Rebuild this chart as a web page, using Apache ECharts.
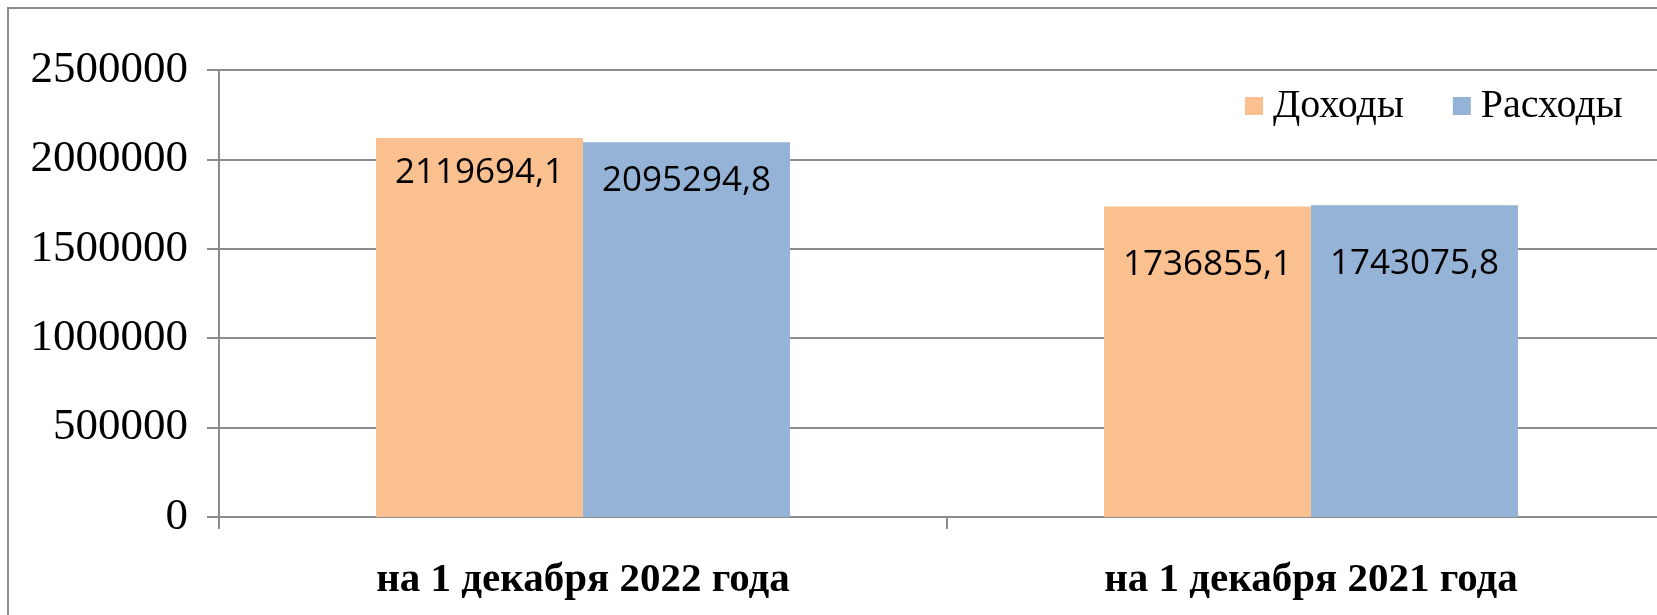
<!DOCTYPE html>
<html>
<head>
<meta charset="utf-8">
<script src="https://cdn.jsdelivr.net/npm/echarts@6/dist/echarts.min.js"></script>
<style>
  html, body { margin: 0; padding: 0; background: #fff; }
  #main { width: 1657px; height: 615px; }
</style>
</head>
<body>
<div id="main"></div>
<script>
  // данные
  var categories = ['на 1 декабря 2022 года', 'на 1 декабря 2021 года'];
  var seriesNames = ['Доходы', 'Расходы'];
  var income = [2119694.1, 1736855.1];
  var expense = [2095294.8, 1743075.8];
  var yTicks = [0, 500000, 1000000, 1500000, 2000000, 2500000];

  var gray = '#8c8c8c';

  function fmt(v) {
    return String(v).replace('.', ',');
  }

  // labels in the 2021 group sit lower inside the bar
  function buildData(vals, dists) {
    var out = [];
    for (var i = 0; i < vals.length; i++) {
      out.push({ value: vals[i], label: { distance: dists[i] } });
    }
    return out;
  }

  var chart = echarts.init(document.getElementById('main'));
  chart.setOption({
    animation: false,
    graphic: [{
      type: 'rect',
      shape: { x: 8, y: 8, width: 1700, height: 700 },
      style: { fill: 'none', stroke: gray, lineWidth: 2 },
      silent: true
    }],
    legend: {
      left: 1240,
      top: 81,
      itemWidth: 18,
      itemHeight: 18,
      itemGap: 49,
      icon: 'rect',
      data: seriesNames,
      textStyle: {
        fontFamily: 'Liberation Serif',
        fontSize: 40,
        color: '#000',
        padding: [0, 0, 0, 5]
      }
    },
    grid: {
      left: 219,
      top: 70,
      width: 1456,
      height: 447,
      outerBoundsMode: 'none',
      containLabel: false
    },
    xAxis: {
      type: 'category',
      data: categories,
      axisLine: { lineStyle: { color: gray, width: 2 } },
      axisTick: { show: true, length: 12, lineStyle: { color: gray, width: 2 } },
      axisLabel: {
        margin: 43,
        fontFamily: 'Liberation Serif',
        fontWeight: 'bold',
        fontSize: 41,
        color: '#000'
      }
    },
    yAxis: {
      type: 'value',
      min: 0,
      max: yTicks[yTicks.length - 1],
      interval: yTicks[1] - yTicks[0],
      axisLine: { show: true, lineStyle: { color: gray, width: 2 } },
      axisTick: { show: true, length: 12, lineStyle: { color: gray, width: 2 } },
      splitLine: { lineStyle: { color: gray, width: 2 } },
      axisLabel: {
        margin: 31,
        fontFamily: 'Liberation Serif',
        fontSize: 45,
        color: '#000',
        formatter: function (v) { return String(v); }
      }
    },
    series: [
      {
        name: seriesNames[0],
        type: 'bar',
        barWidth: 207,
        barGap: '0%',
        itemStyle: { color: '#FAC090' },
        label: {
          show: true,
          position: 'insideTop',
          fontFamily: 'Open Sans',
          fontSize: 35,
          color: '#000',
          formatter: function (p) { return fmt(p.value); }
        },
        data: buildData(income, [18, 41])
      },
      {
        name: seriesNames[1],
        type: 'bar',
        barWidth: 207,
        barGap: '0%',
        itemStyle: { color: '#95B3D7' },
        label: {
          show: true,
          position: 'insideTop',
          fontFamily: 'Open Sans',
          fontSize: 35,
          color: '#000',
          formatter: function (p) { return fmt(p.value); }
        },
        data: buildData(expense, [21, 41])
      }
    ]
  });
</script>
</body>
</html>
